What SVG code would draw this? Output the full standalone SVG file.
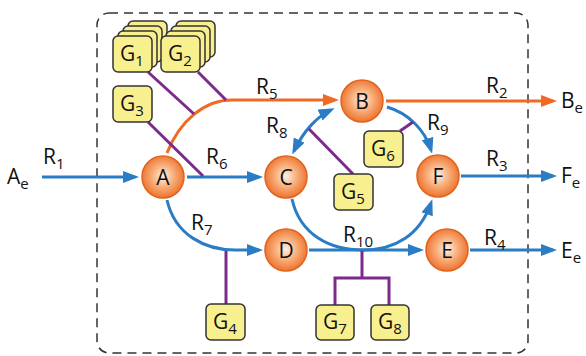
<svg xmlns="http://www.w3.org/2000/svg" width="586" height="356" viewBox="0 0 586 356">
<style>
text{font-family:"Open Sans","Liberation Sans",sans-serif;font-size:21px;fill:#111}
.sub{font-size:15px}
.node circle{fill:url(#og);stroke:#e0641c;stroke-width:1.5}
.node text{text-anchor:middle}
.g rect{fill:#f8ef8e;stroke:#333;stroke-width:1.5}
.g text{text-anchor:middle}
.b{fill:none;stroke:#2a7cc4;stroke-width:3}
.o{fill:none;stroke:#f06a24;stroke-width:3}
.p{fill:none;stroke:#7b2b8c;stroke-width:3}
</style>
<defs>
<radialGradient id="og" cx="50%" cy="48%" r="52%">
<stop offset="0" stop-color="#fef0e4"/>
<stop offset="0.5" stop-color="#f8ae7a"/>
<stop offset="1" stop-color="#ee7330"/>
</radialGradient>
<marker id="ab" markerUnits="userSpaceOnUse" markerWidth="17" markerHeight="13" refX="12" refY="6" orient="auto-start-reverse" viewBox="0 0 17 13">
<path d="M0,0 L16,6 L0,12 Z" fill="#2a7cc4"/>
</marker>
<marker id="ao" markerUnits="userSpaceOnUse" markerWidth="17" markerHeight="13" refX="12" refY="6" orient="auto" viewBox="0 0 17 13">
<path d="M0,0 L16,6 L0,12 Z" fill="#f06a24"/>
</marker>
</defs>
<rect x="97" y="13" width="431" height="340" rx="12" fill="none" stroke="#333" stroke-width="1.5" stroke-dasharray="9,6"/>
<g id="connectors">
<line class="b" x1="42" y1="177" x2="135" y2="177" marker-end="url(#ab)"/>
<line class="b" x1="187" y1="177" x2="259" y2="177" marker-end="url(#ab)"/>
<path class="b" d="M167,200 C175,235 205,250 235,250 L259,250" marker-end="url(#ab)"/>
<path class="o" d="M167,153 C180,120 205,100 232,100 L335,100" marker-end="url(#ao)"/>
<line class="o" x1="386" y1="101" x2="553" y2="101" marker-end="url(#ao)"/>
<path class="b" d="M294,151 C304,130 318,116 331,110" marker-start="url(#ab)" marker-end="url(#ab)"/>
<path class="b" d="M387,107 C408,113 425,130 431,150" marker-end="url(#ab)"/>
<line class="b" x1="461" y1="176" x2="553" y2="176" marker-end="url(#ab)"/>
<path class="b" d="M292,199 C300,235 330,250 363,250 C395,250 420,235 431,203" marker-end="url(#ab)"/>
<line class="b" x1="309" y1="250" x2="420" y2="250" marker-end="url(#ab)"/>
<line class="b" x1="470" y1="250" x2="553" y2="250" marker-end="url(#ab)"/>
<line class="p" x1="148" y1="72" x2="194" y2="114"/>
<line class="p" x1="198" y1="72" x2="226" y2="100"/>
<line class="p" x1="148" y1="122" x2="203" y2="176"/>
<line class="p" x1="353" y1="174" x2="309" y2="129"/>
<line class="p" x1="400" y1="131" x2="413" y2="122"/>
<line class="p" x1="226" y1="251" x2="226" y2="304"/>
<polyline class="p" points="362,251 362,278"/>
<polyline class="p" points="335,305 335,278 389,278 389,305"/>
</g>
<g id="labels">
<text x="43" y="164">R<tspan class="sub" dy="5">1</tspan></text>
<text x="206" y="164">R<tspan class="sub" dy="5">6</tspan></text>
<text x="256" y="94">R<tspan class="sub" dy="5">5</tspan></text>
<text x="266" y="133">R<tspan class="sub" dy="5">8</tspan></text>
<text x="191" y="230">R<tspan class="sub" dy="5">7</tspan></text>
<text x="486" y="93">R<tspan class="sub" dy="5">2</tspan></text>
<text x="427" y="130">R<tspan class="sub" dy="5">9</tspan></text>
<text x="486" y="166">R<tspan class="sub" dy="5">3</tspan></text>
<text x="484" y="245">R<tspan class="sub" dy="5">4</tspan></text>
<text x="343" y="242">R<tspan class="sub" dy="5">10</tspan></text>
<text x="7" y="184">A<tspan class="sub" dy="5">e</tspan></text>
<text x="561" y="108">B<tspan class="sub" dy="5">e</tspan></text>
<text x="561" y="183">F<tspan class="sub" dy="5">e</tspan></text>
<text x="561" y="258">E<tspan class="sub" dy="5">e</tspan></text>
</g>
<g id="A" class="node"><circle cx="163" cy="177" r="21"/><text x="163" y="184.5">A</text></g>
<g id="C" class="node"><circle cx="286" cy="177" r="21"/><text x="286" y="184.5">C</text></g>
<g id="B" class="node"><circle cx="362" cy="101" r="21"/><text x="362" y="108.5">B</text></g>
<g id="F" class="node"><circle cx="438" cy="176" r="21"/><text x="438" y="183.5">F</text></g>
<g id="D" class="node"><circle cx="286" cy="250" r="21"/><text x="286" y="257.5">D</text></g>
<g id="E" class="node"><circle cx="447" cy="250" r="21"/><text x="447" y="257.5">E</text></g>
<g id="G1" class="g">
<rect x="128" y="21" width="39" height="36" rx="5"/>
<rect x="123" y="26" width="39" height="36" rx="5"/>
<rect x="118" y="31" width="39" height="36" rx="5"/>
<rect x="113" y="36" width="39" height="36" rx="5"/>
<text x="132" y="61">G<tspan class="sub" dy="5">1</tspan></text>
</g>
<g id="G2" class="g">
<rect x="176" y="21" width="39" height="36" rx="5"/>
<rect x="171" y="26" width="39" height="36" rx="5"/>
<rect x="166" y="31" width="39" height="36" rx="5"/>
<rect x="161" y="36" width="39" height="36" rx="5"/>
<text x="180" y="61">G<tspan class="sub" dy="5">2</tspan></text>
</g>
<g id="G3" class="g"><rect x="113" y="86" width="39" height="36" rx="5"/><text x="132" y="111">G<tspan class="sub" dy="5">3</tspan></text></g>
<g id="G4" class="g"><rect x="206" y="304" width="39" height="36" rx="5"/><text x="225" y="329">G<tspan class="sub" dy="5">4</tspan></text></g>
<g id="G5" class="g"><rect x="334" y="174" width="39" height="36" rx="5"/><text x="353" y="199">G<tspan class="sub" dy="5">5</tspan></text></g>
<g id="G6" class="g"><rect x="364" y="131" width="39" height="36" rx="5"/><text x="383" y="156">G<tspan class="sub" dy="5">6</tspan></text></g>
<g id="G7" class="g"><rect x="316" y="305" width="38" height="35" rx="5"/><text x="335" y="329">G<tspan class="sub" dy="5">7</tspan></text></g>
<g id="G8" class="g"><rect x="371" y="305" width="38" height="35" rx="5"/><text x="390" y="329">G<tspan class="sub" dy="5">8</tspan></text></g>
</svg>
